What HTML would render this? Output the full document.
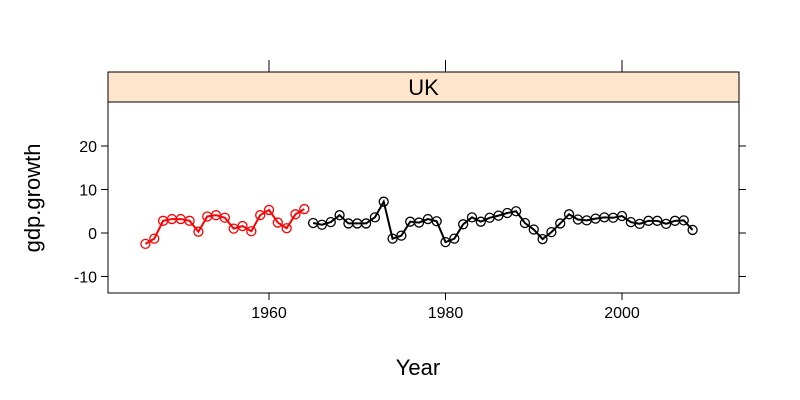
<!DOCTYPE html>
<html><head><meta charset="utf-8"><style>body{margin:0;background:#fff}svg{display:block;font-family:"Liberation Sans",sans-serif}</style></head>
<body>
<svg id="c" width="800" height="400">
<rect x="108" y="72" width="631" height="30" fill="#ffe5cc" stroke="#000"/>
<text x="423.5" y="95" font-size="22" text-anchor="middle">UK</text>
<rect x="108" y="102" width="631" height="191" fill="none" stroke="#000"/>
<text x="418" y="375" font-size="22" text-anchor="middle">Year</text>
<text transform="translate(40,198) rotate(-90)" font-size="22" text-anchor="middle">gdp.growth</text>
<g id="ax"></g><g id="marks"></g>
</svg>
<script>
const xTicks=[1960,1980,2000];
const yTicks=[-10,0,10,20];
const redYears=[1946,1947,1948,1949,1950,1951,1952,1953,1954,1955,1956,1957,1958,1959,1960,1961,1962,1963,1964];
const redVals=[-2.5,-1.3,2.8,3.2,3.2,2.8,0.3,3.8,4.1,3.5,1.0,1.6,0.4,4.1,5.3,2.4,1.1,4.3,5.5];
const blackYears=[1965,1966,1967,1968,1969,1970,1971,1972,1973,1974,1975,1976,1977,1978,1979,1980,1981,1982,1983,1984,1985,1986,1987,1988,1989,1990,1991,1992,1993,1994,1995,1996,1997,1998,1999,2000,2001,2002,2003,2004,2005,2006,2007,2008];
const blackVals=[2.3,1.9,2.5,4.1,2.2,2.2,2.2,3.6,7.2,-1.3,-0.6,2.6,2.4,3.2,2.7,-2.1,-1.3,2.0,3.6,2.6,3.5,4.0,4.6,5.0,2.3,0.8,-1.4,0.2,2.2,4.3,3.1,2.9,3.3,3.6,3.5,3.9,2.5,2.1,2.8,2.8,2.1,2.8,2.9,0.7];
const X=v=>269+(v-1960)*(622-269)/40;
const Y=v=>233-v*4.35;
const NS="http://www.w3.org/2000/svg";
function mk(t,a,p){const e=document.createElementNS(NS,t);for(const k in a)e.setAttribute(k,a[k]);p.appendChild(e);return e;}
const ax=document.getElementById('ax'),mg=document.getElementById('marks');
xTicks.forEach(t=>{
 const l=mk('line',{x1:X(t),x2:X(t),y1:293,y2:300,stroke:'#000'},ax);
 
 
 const l2=mk('line',{x1:X(t),x2:X(t),y1:60,y2:72,stroke:'#000'},ax);
 
 
 const tx=mk('text',{x:X(t),y:318,'font-size':16,'text-anchor':'middle'},ax);tx.textContent=t;
 
 
});
yTicks.forEach(t=>{
 const l=mk('line',{x1:101,x2:108,y1:Y(t),y2:Y(t),stroke:'#000'},ax);
 
 
 const l2=mk('line',{x1:739,x2:746,y1:Y(t),y2:Y(t),stroke:'#000'},ax);
 
 
 const tx=mk('text',{x:97,y:Y(t)+6,'font-size':16,'text-anchor':'end'},ax);tx.textContent=t;
 
 
});
function series(xs,vs,col,name){
 const pl=mk('polyline',{points:xs.map((x,i)=>X(x)+','+Y(vs[i])).join(' '),fill:'none',stroke:col,'stroke-width':2},mg);
 
 
 xs.forEach((x,i)=>{const c=mk('circle',{cx:X(x),cy:Y(vs[i]),r:4.5,fill:'none',stroke:col,'stroke-width':1.3},mg);
  
  });
}
series(redYears,redVals,'#ff0000','red-series');
series(blackYears,blackVals,'#000','black-series');
</script>
</body></html>
